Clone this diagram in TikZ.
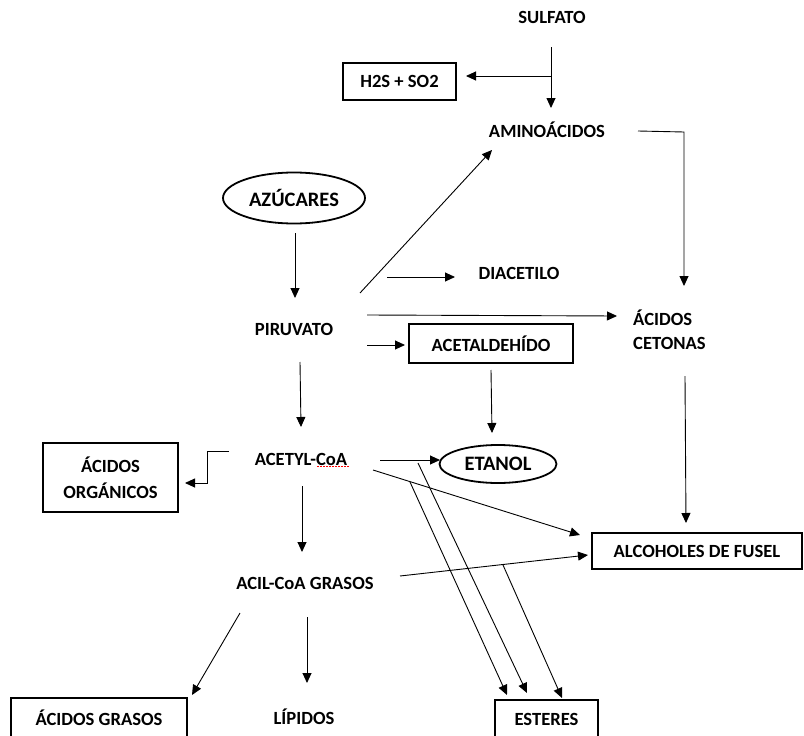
\documentclass[tikz,border=0pt]{standalone}
\usepackage{fontspec}
\setmainfont{Carlito}
\usetikzlibrary{arrows.meta,shapes.geometric}
\begin{document}
\begin{tikzpicture}[x=1pt,y=-1pt,
  lbl/.style={font=\bfseries\fontsize{18.6}{24}\selectfont, inner sep=0pt},
  bigl/.style={font=\bfseries\fontsize{20.5}{24}\selectfont, inner sep=0pt},
  box/.style={draw, line width=1.1pt, inner sep=0pt, font=\bfseries\fontsize{18.6}{26}\selectfont, align=center},
  oval/.style={draw, ellipse, line width=1.8pt, inner sep=0pt},
  arr/.style={line width=0.9pt, -{Triangle[length=10pt,width=9pt]}},
  ln/.style={line width=0.9pt}]
\useasboundingbox (0,0) rectangle (804,736);
% nodes
\node[lbl] (sulf) at (552,17) {SULFATO};
\node[box, minimum width=113pt, minimum height=37pt] (h2s) at (399.5,81.5) {H2S + SO2};
\node[lbl] (amino) at (547,130) {AMINOÁCIDOS};
\node[oval, bigl, minimum width=142pt, minimum height=51pt] (azu) at (294,198) {AZÚCARES};
\node[lbl] (diac) at (519,273) {DIACETILO};
\node[lbl] (piru) at (294,329) {PIRUVATO};
\node[lbl, anchor=west, align=left] (cet) at (633,330) {ÁCIDOS\\CETONAS};
\node[box, minimum width=164pt, minimum height=39pt] (acet) at (491,343.5) {ACETALDEHÍDO};
\node[lbl] (acetyl) at (301,459) {ACETYL-CoA};
\node[box, minimum width=135pt, minimum height=69pt] (org) at (110.5,477.5) {ÁCIDOS\\ORGÁNICOS};
\node[oval, bigl, minimum width=117pt, minimum height=38pt] (etanol) at (498,464) {ETANOL};
\node[box, minimum width=210pt, minimum height=36pt] (fusel) at (697,551) {ALCOHOLES DE FUSEL};
\node[lbl] (acil) at (305,583) {ACIL-CoA GRASOS};
\node[box, minimum width=176pt, minimum height=40pt] (grasos) at (99,718) {ÁCIDOS GRASOS};
\node[lbl] (lip) at (304,717) {LÍPIDOS};
\node[box, minimum width=103pt, minimum height=38pt] (esteres) at (546.5,719) {ESTERES};
% coordinates
\coordinate (sulfOut) at (551,47);
\coordinate (sulfFork) at (551,76);
\coordinate (aminoIn) at (551,108);
\coordinate (h2sIn) at (466,76);
\coordinate (aminoOut) at (638,131);
\coordinate (aminoTurn) at (684,132);
\coordinate (cetIn) at (684,286);
\coordinate (piruUp) at (360,293);
\coordinate (aminoInB) at (492,150);
\coordinate (piruDiac) at (387,277);
\coordinate (diacIn) at (455,277);
\coordinate (piruCet) at (367,315);
\coordinate (cetInB) at (617,316);
\coordinate (piruAcet) at (367,345);
\coordinate (acetIn) at (405,345);
\coordinate (azuOut) at (295,233);
\coordinate (piruIn) at (295,298);
\coordinate (piruDown) at (300,362);
\coordinate (acetylIn) at (301,427);
\coordinate (acetOut) at (491,370);
\coordinate (etanolIn) at (492,433);
\coordinate (acetylLeft) at (229,451);
\coordinate (orgTurn) at (207,483);
\coordinate (orgIn) at (185,483);
\coordinate (acetylEt) at (380,460);
\coordinate (etanolInL) at (440,460);
\coordinate (acetylFus) at (373,470);
\coordinate (fuselIn) at (580,535);
\coordinate (acetylDown) at (302,486);
\coordinate (acilIn) at (302,552);
\coordinate (acilOut) at (400,576);
\coordinate (fuselInB) at (588,555);
\coordinate (estA) at (418,463);
\coordinate (estAin) at (527,693);
\coordinate (estB) at (410,482);
\coordinate (estBin) at (507,695);
\coordinate (estC) at (503,565);
\coordinate (estCin) at (562,698);
\coordinate (acilGr) at (240,613);
\coordinate (grasosIn) at (192,695);
\coordinate (acilLip) at (307,617);
\coordinate (lipIn) at (307,683);
\coordinate (cetOut) at (685,376);
\coordinate (fuselInC) at (686,523);
\coordinate (coaA) at (317,466);
\coordinate (coaB) at (349,466);
% connectors
\draw[arr] (sulfOut) -- (aminoIn);
\draw[arr] (sulfFork) -- (h2sIn);
\draw[arr] (aminoOut) -- (aminoTurn) -- (cetIn);
\draw[arr] (piruUp) -- (aminoInB);
\draw[arr] (piruDiac) -- (diacIn);
\draw[arr] (piruCet) -- (cetInB);
\draw[arr] (piruAcet) -- (acetIn);
\draw[arr] (azuOut) -- (piruIn);
\draw[arr] (piruDown) -- (acetylIn);
\draw[arr] (acetOut) -- (etanolIn);
\draw[arr] (acetylLeft) -| (orgTurn) -- (orgIn);
\draw[arr] (acetylEt) -- (etanolInL);
\draw[arr] (acetylFus) -- (fuselIn);
\draw[arr] (acetylDown) -- (acilIn);
\draw[arr] (acilOut) -- (fuselInB);
\draw[arr] (estA) -- (estAin);
\draw[arr] (estB) -- (estBin);
\draw[arr] (estC) -- (estCin);
\draw[arr] (acilGr) -- (grasosIn);
\draw[arr] (acilLip) -- (lipIn);
\draw[arr] (cetOut) -- (fuselInC);
\draw[red, line width=0.8pt, dash pattern=on 1.5pt off 1.5pt] (coaA) -- (coaB);
\end{tikzpicture}
\end{document}
